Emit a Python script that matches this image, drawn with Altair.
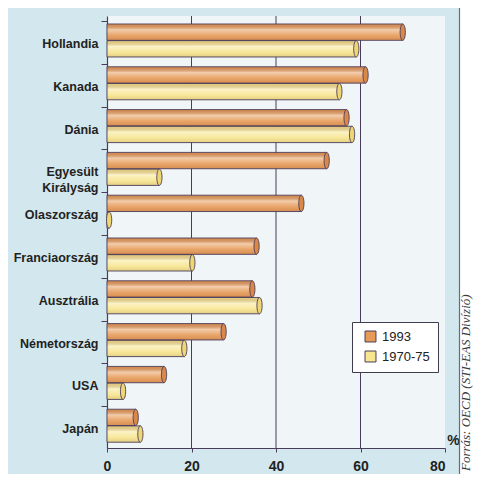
import altair as alt
import pandas as pd

# ---------------- data ----------------
countries = ["Hollandia", "Kanada", "Dánia", "Egyesült Királyság", "Olaszország",
             "Franciaország", "Ausztrália", "Németország", "USA", "Japán"]
series = ["1993", "1970-75"]
values_1993 = [70, 61.2, 56.7, 52, 46, 35.4, 34.4, 27.6, 13.5, 6.8]
values_1970_75 = [59, 55, 58, 12.4, 0.5, 20.2, 36.1, 18.3, 3.8, 7.9]
x_ticks = [0, 20, 40, 60, 80]
grid_values = [20, 40, 60]
axis_title = "%"
source_text = "Forrás: OECD (STI-EAS Divízió)"

bar_colors = ["#e69a57", "#f7e58f"]
cap_colors = ["#d98848", "#eed673"]

rows = []
for c, a, b in zip(countries, values_1993, values_1970_75):
    rows.append({"country": c, "series": series[0], "value": a})
    rows.append({"country": c, "series": series[1], "value": b})
df = pd.DataFrame(rows)
grid_df = pd.DataFrame({"g": grid_values})

# ---------------- style ----------------
W, H = 338, 432
FONT = "Liberation Sans"
INK = "#4b3c5c"
ELLIPSE = "M0,-1A0.32,1,0,1,1,0,1A0.32,1,0,1,1,0,-1Z"

x_scale = alt.Scale(domain=[0, 80], nice=False, zero=True)
y_scale = alt.Scale(domain=countries, paddingInner=0.229, paddingOuter=0.161, align=0.58)
yo_scale = alt.Scale(domain=series, paddingInner=0.02)

x_axis = alt.Axis(
    values=x_ticks, grid=False, title=axis_title,
    titleX=346, titleY=-8, titleAngle=0, titleAlign="center", titleBaseline="middle",
    titleFont=FONT, titleFontSize=14, titleFontWeight="bold", titleColor="#222",
    labelFont=FONT, labelFontSize=14, labelFontWeight="bold", labelColor="#222",
    labelFlush=False,
    labelAlign=alt.condition("datum.value == 80", alt.value("right"), alt.value("center")),
    labelPadding=7, tickSize=4, tickColor=INK, domainColor=INK, domainWidth=1.2,
)
y_axis = alt.Axis(
    title=None, labelFont=FONT, labelFontSize=12.5, labelFontWeight="bold", labelColor="#222",
    labelPadding=3, tickSize=6, tickColor=INK, domainColor=INK, domainWidth=1.2,
    bandPosition=0.5, tickOffset=-19.5, labelOffset=22.5, labelLineHeight=16,
    labelExpr="datum.label == 'Egyesült Királyság' ? ['Egyesült', 'Királyság'] : datum.label",
)

base = alt.Chart(df).encode(
    x=alt.X("value:Q", scale=x_scale, axis=x_axis),
    y=alt.Y("country:N", scale=y_scale, axis=y_axis, sort=countries),
    yOffset=alt.YOffset("series:N", scale=yo_scale, sort=series),
)

grid = alt.Chart(grid_df).mark_rule(color=INK, strokeWidth=1).encode(
    x=alt.X("g:Q", scale=x_scale)
)

bars = base.mark_bar(strokeWidth=0).encode(
    color=alt.Color(
        "series:N",
        scale=alt.Scale(domain=series, range=bar_colors),
        legend=alt.Legend(
            title=None, orient="none", legendX=245, legendY=306, zindex=2,
            fillColor="white", strokeColor="#3d3d4d", padding=8,
            symbolType="square", symbolSize=120, symbolStrokeColor=INK,
            symbolStrokeWidth=1, symbolOffset=4, labelOffset=5, rowPadding=5,
            labelFont=FONT, labelFontSize=13, labelColor="#222",
        ),
    )
)

shine = base.mark_bar(
    fill=alt.Gradient(
        gradient="linear", x1=0, x2=0, y1=0, y2=1,
        stops=[
            alt.GradientStop(color="rgba(90,40,20,0.10)", offset=0),
            alt.GradientStop(color="rgba(255,255,255,0.50)", offset=0.35),
            alt.GradientStop(color="rgba(255,255,255,0.10)", offset=0.7),
            alt.GradientStop(color="rgba(90,40,20,0.12)", offset=1),
        ],
    ),
    stroke=INK, strokeWidth=0.9,
)

caps = base.mark_point(
    shape=ELLIPSE, filled=True, size=266, stroke=INK, strokeWidth=0.9, opacity=1
).encode(
    fill=alt.Fill("series:N", scale=alt.Scale(domain=series, range=cap_colors), legend=None)
)

one = alt.Data(values=[{}])
strip = alt.Chart(one).mark_rect(color="white").encode(
    x=alt.value(352), x2=alt.value(420), y=alt.value(-30), y2=alt.value(500)
)
frame = alt.Chart(one).mark_rect(filled=False, stroke="#6b6b75", strokeWidth=1.2).encode(
    x=alt.value(-130), x2=alt.value(352.5), y=alt.value(-30), y2=alt.value(500)
)
source = alt.Chart(one).mark_text(
    angle=270, align="left", baseline="alphabetic", font="Liberation Serif",
    fontStyle="italic", fontSize=13, color="#3a3a3a",
).encode(x=alt.value(363), y=alt.value(455), text=alt.value(source_text))

chart = alt.layer(grid, bars, shine, caps, strip, frame, source).properties(
    width=W, height=H,
    padding={"left": 99, "top": 8, "right": 28, "bottom": 26},
    autosize=alt.AutoSizeParams(type="none"),
).configure(background="#d3e8ee").configure_view(fill="#f0f6f7", strokeWidth=0)

chart.save("out.html", embed_options={"renderer": "svg", "actions": False})
